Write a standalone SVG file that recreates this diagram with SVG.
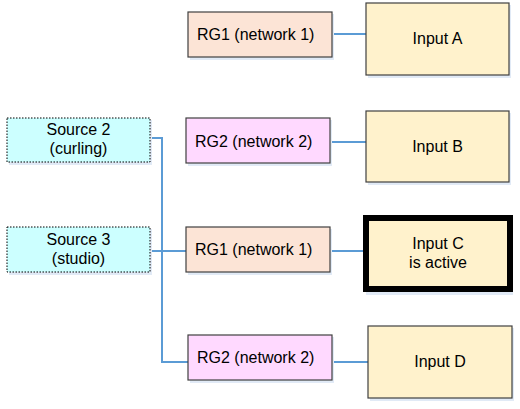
<svg xmlns="http://www.w3.org/2000/svg" width="520" height="409" viewBox="0 0 520 409">
<style>
text{font-family:"Liberation Sans",Arial,sans-serif;font-size:16px;fill:#000}
.c{text-anchor:middle}
.rg1{fill:#FCE4D6;stroke:#404040;stroke-width:1.2}
.rg2{fill:#FFD9FF;stroke:#404040;stroke-width:1.2}
.inp{fill:#FFF2CC;stroke:#404040;stroke-width:1.2}
.src{fill:#CCFFFF;stroke:#000;stroke-width:1;stroke-dasharray:1.5 1.5}
.sh{fill:#E1EAF6}
.conn{fill:none;stroke:#5B9BD5;stroke-width:2}
</style>
<rect width="520" height="409" fill="#fff"/>
<g id="connectors">
<line class="conn" x1="332" y1="34" x2="366" y2="34"/>
<line class="conn" x1="330" y1="142" x2="366" y2="142"/>
<line class="conn" x1="330" y1="251" x2="363" y2="251"/>
<line class="conn" x1="332" y1="362" x2="368" y2="362"/>
<polyline class="conn" points="150,138 162,138 162,362 188,362"/>
<line class="conn" x1="150" y1="251" x2="186" y2="251"/>
</g>
<g id="rg1-top">
<rect class="sh" x="190" y="14" width="144" height="46"/>
<rect class="rg1" x="188" y="12" width="144" height="45"/>
<text x="197" y="40">RG1 (network 1)</text>
</g>
<g id="input-a">
<rect class="sh" x="368" y="5" width="143" height="73"/>
<rect class="inp" x="366" y="3" width="143" height="72"/>
<text class="c" x="437.5" y="44">Input A</text>
</g>
<g id="source-2">
<rect class="sh" x="9" y="120" width="143" height="45"/>
<rect class="src" x="7" y="118" width="143" height="44"/>
<text class="c" x="78.5" y="135">Source 2</text>
<text class="c" x="78.5" y="154">(curling)</text>
</g>
<g id="rg2-top">
<rect class="sh" x="188" y="120" width="144" height="46"/>
<rect class="rg2" x="186" y="118" width="144" height="45"/>
<text x="195" y="147">RG2 (network 2)</text>
</g>
<g id="input-b">
<rect class="sh" x="368" y="113" width="143" height="72"/>
<rect class="inp" x="366" y="111" width="143" height="71"/>
<text class="c" x="437.5" y="152">Input B</text>
</g>
<g id="source-3">
<rect class="sh" x="9" y="229" width="143" height="46"/>
<rect class="src" x="7" y="227" width="143" height="45"/>
<text class="c" x="78.5" y="245">Source 3</text>
<text class="c" x="78.5" y="264">(studio)</text>
</g>
<g id="rg1-mid">
<rect class="sh" x="188" y="229" width="144" height="46"/>
<rect class="rg1" x="186" y="227" width="144" height="45"/>
<text x="195" y="255">RG1 (network 1)</text>
</g>
<g id="input-c">
<rect class="sh" x="366" y="221" width="147" height="74"/>
<rect x="366" y="218" width="144" height="71" fill="#FFF2CC" stroke="#000" stroke-width="6"/>
<text class="c" x="438" y="249">Input C</text>
<text class="c" x="438" y="268">is active</text>
</g>
<g id="rg2-bottom">
<rect class="sh" x="190" y="337" width="144" height="46"/>
<rect class="rg2" x="188" y="335" width="144" height="45"/>
<text x="197" y="363">RG2 (network 2)</text>
</g>
<g id="input-d">
<rect class="sh" x="370" y="328" width="144" height="73"/>
<rect class="inp" x="368" y="326" width="144" height="72"/>
<text class="c" x="440" y="367">Input D</text>
</g>
</svg>
